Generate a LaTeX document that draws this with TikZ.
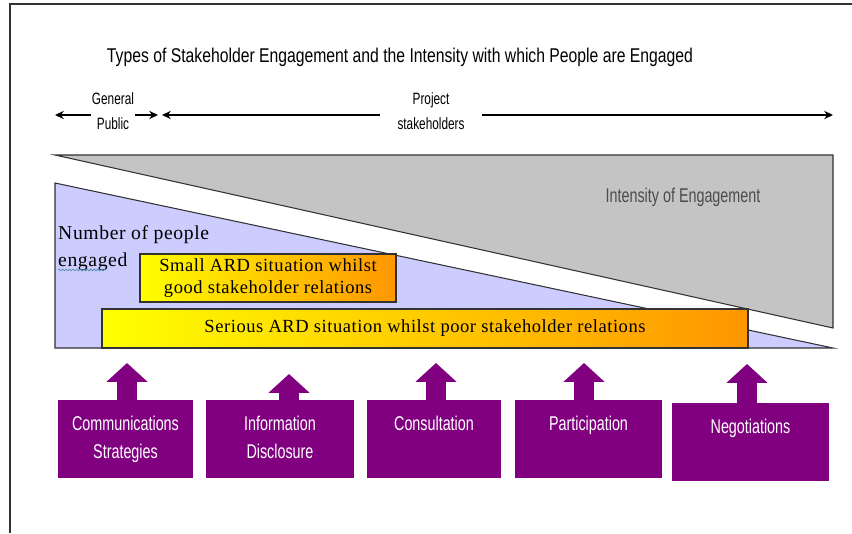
\documentclass[tikz,border=0pt]{standalone}
\usepackage{fontspec}
\usepackage{tikz}
\usetikzlibrary{arrows.meta,decorations.pathmorphing}
\newfontfamily\narrowsf{Liberation Sans}[FakeStretch=0.72]
\newfontfamily\titlesf{Liberation Sans}[FakeStretch=0.79]
\newfontfamily\ardserif{Liberation Serif}[LetterSpace=3]
\definecolor{purp}{RGB}{128,0,128}
\definecolor{greytri}{RGB}{196,196,196}
\definecolor{bluetri}{RGB}{204,204,255}
\definecolor{ardorange}{RGB}{255,150,0}
\definecolor{edge}{RGB}{50,50,50}
\def\pxu{0.03cm}
\tikzset{
  hline/.style={line width=1.1pt,-{Stealth[length=7.5pt,width=7pt]}},
  ardbox/.style={draw=edge,line width=1pt,left color=yellow,middle color=yellow,right color=ardorange,
    font=\ardserif\fontsize{15.8}{18.8}\selectfont,align=center,inner sep=0pt},
  pbox/.style={fill=purp,minimum height=78*\pxu,inner sep=0pt},
  plabel/.style={text=white,font=\narrowsf\fontsize{17}{23.5}\selectfont,align=center,inner sep=0pt},
  uparrow/.style={purp,line width=17pt,-{Triangle[length=16pt,width=34pt]}}
}
\begin{document}
\begin{tikzpicture}[x=\pxu,y=-\pxu]
\useasboundingbox (0,0) rectangle (852,533);
% frame
\draw[edge,line width=1.7pt] (10,533) -- (10,4) -- (852,4);
% title and header arrows
\node[font=\titlesf\fontsize{17}{20}\selectfont] (title) at (400,57) {Types of Stakeholder Engagement and the Intensity with which People are Engaged};
\coordinate (hl) at (0,115);
\node[font=\narrowsf\fontsize{14}{21}\selectfont,align=center,inner sep=1pt] (gp) at (113,111) {General\\Public};
\node[font=\narrowsf\fontsize{14}{21}\selectfont,align=center,inner xsep=15pt] (ps) at (431,111) {Project\\stakeholders};
\coordinate (gpL) at (55,115);
\coordinate (gpR) at (158,115);
\coordinate (psL) at (162,115);
\coordinate (psR) at (833,115);
\draw[hline] (gp.west |- hl) -- (gpL);
\draw[hline] (gp.east |- hl) -- (gpR);
\draw[hline] (ps.west |- hl) -- (psL);
\draw[hline] (ps.east |- hl) -- (psR);
% triangles
\filldraw[fill=greytri,draw=edge,line width=0.9pt] (55,155) -- (833,155) -- (833,328) -- cycle;
\filldraw[fill=bluetri,draw=edge,line width=0.9pt] (55,183) -- (833,348) -- (55,348) -- cycle;
\node[font=\narrowsf\fontsize{17}{20}\selectfont,text=black!70] (intensity) at (683,197) {Intensity of Engagement};
\node[font=\ardserif\fontsize{16.8}{23}\selectfont,align=left,anchor=north west,inner sep=0pt] (npe) at (58,225) {Number of people\\engaged};
\draw[black!40!cyan,line width=0.5pt,decorate,decoration={snake,amplitude=0.8pt,segment length=3pt}] (58,270) -- (106,270);
% ARD boxes
\node[ardbox,minimum width=256*\pxu,minimum height=48*\pxu] (small) at (268,278) {Small ARD situation whilst\\good stakeholder relations};
\node[ardbox,minimum width=646*\pxu,minimum height=39*\pxu] (serious) at (425,328.5) {Serious ARD situation whilst poor stakeholder relations};
% engagement types
\foreach \n/\x/\y/\w/\ax/\ay/\lab in {1/125.5/439/135/127/363/{Communications\\Strategies},
  2/280/439/148/289/374/{Information\\Disclosure}, 3/434/439/134/436/363/Consultation,
  4/588.5/439/147/584/363/Participation, 5/750.5/442/157/747/364/Negotiations}{
  \node[pbox,minimum width=\w*\pxu] (b\n) at (\x,\y) {};
  \node[plabel,anchor=north] (l\n) at ([yshift=-14pt]b\n.north) {\lab};
  \coordinate (t\n) at (\ax,\ay);
  \draw[uparrow] (b\n.north -| t\n) -- (t\n);
}
\end{tikzpicture}
\end{document}
